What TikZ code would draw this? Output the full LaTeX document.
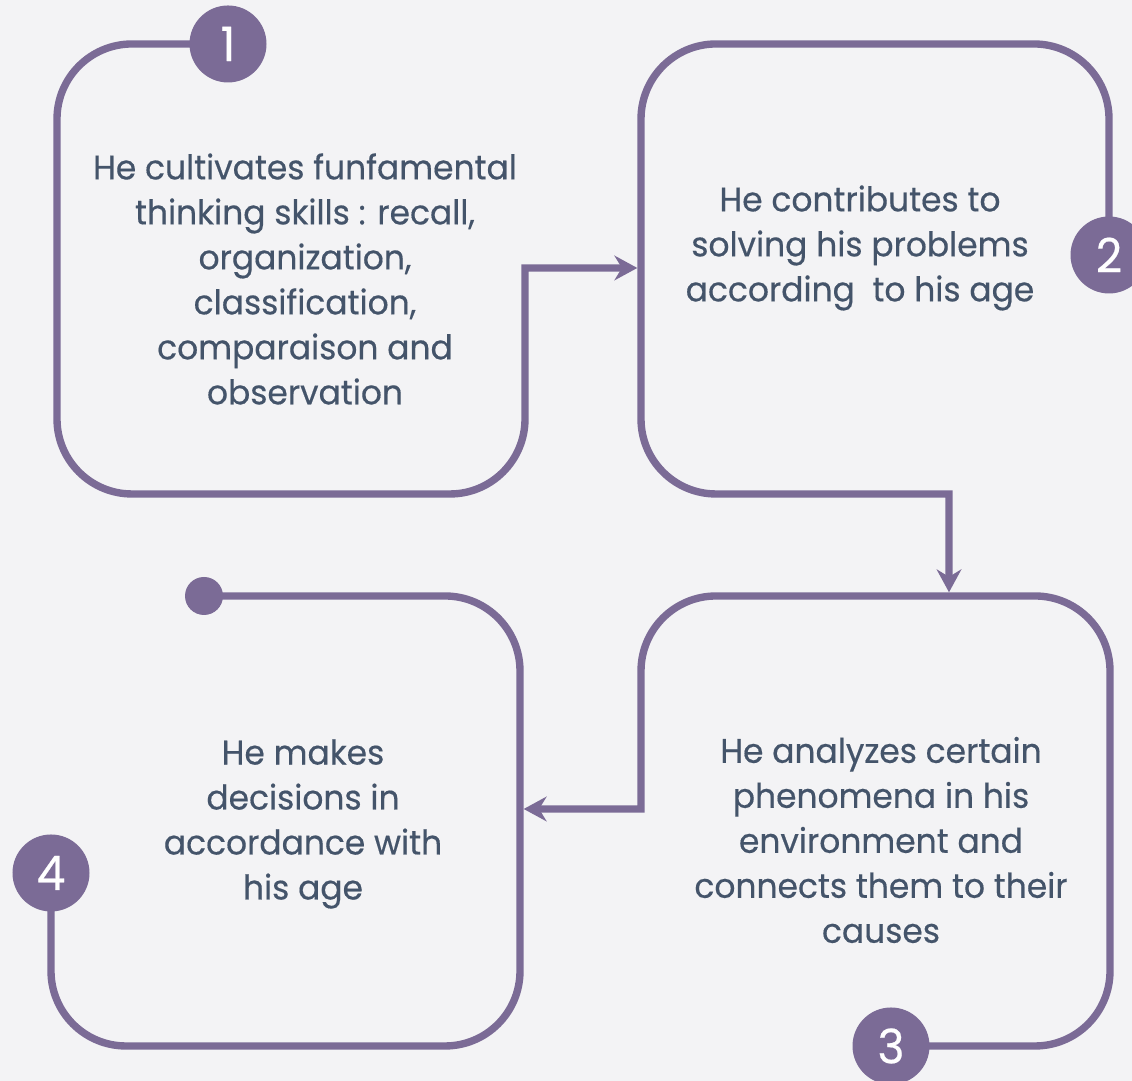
\documentclass[tikz,border=0pt]{standalone}
\usepackage{fontspec}
\setmainfont{Poppins}[FakeStretch=0.965, FakeBold=0.4]
\usetikzlibrary{arrows.meta}
\definecolor{flowpurple}{HTML}{7B6B96}
\definecolor{flowtext}{HTML}{44546A}
\definecolor{flowback}{HTML}{F3F3F5}
\begin{document}
\begin{tikzpicture}[
    x=1cm, y=1cm,
    frame/.style={draw=flowpurple, line width=2.1pt, rounded corners=0.75cm},
    badge/.style={circle, fill=flowpurple, text=white, minimum size=0.77cm, inner sep=0pt, font=\fontsize{13.5}{14}\selectfont},
    dotend/.style={circle, fill=flowpurple, minimum size=0.38cm, inner sep=0pt},
    txt/.style={align=center, text=flowtext, font=\fontsize{9.7}{12.8}\selectfont},
    line/.style={-{Stealth[length=6.5pt,width=7pt]}, shorten >=1.05pt}
]
\useasboundingbox (0,0) rectangle (11.32,10.81);
\fill[flowback] (0,0) rectangle (11.32,10.81);
\clip (0,0) rectangle (11.32,10.81);

% arrow ends on the next frame
\coordinate (in2) at (6.41,8.13);
\coordinate (in3) at (9.49,4.85);
\coordinate (in4) at (5.20,2.72);

\node[txt] (t1) at (3.05,8.02) {He cultivates funfamental\\thinking skills : recall,\\organization,\\classification,\\comparaison and\\observation};
\node[txt] (t2) at (8.60,8.33) {He contributes to\\solving his problems\\according\ \ to his age};
\node[txt] (t3) at (8.81,2.41) {He analyzes certain\\phenomena in his\\environment and\\connects them to their\\causes};
\node[txt] (t4) at (3.03,2.57) {He makes\\decisions in\\accordance with\\his age};

% frames
\draw[frame, line] (2.28,10.37) -- (0.57,10.37) -- (0.57,5.87) -- (5.25,5.87) [sharp corners] -- (5.25,8.13) -- (in2);
\draw[frame, line] (11.09,8.26) -- (11.09,10.37) -- (6.41,10.37) -- (6.41,5.87) [sharp corners] -- (9.49,5.87) -- (in3);
\draw[frame, line] (8.91,0.35) -- (11.10,0.35) -- (11.10,4.85) -- (6.41,4.85) [sharp corners] -- (6.41,2.72) -- (in4);
\draw[frame] (2.04,4.85) -- (5.20,4.85) -- (5.20,0.35) -- (0.51,0.35) -- (0.51,2.08);

\node[badge] (b1) at (2.28,10.37) {1};
\node[badge] (b2) at (11.09,8.26) {2};
\node[badge] (b3) at (8.91,0.35) {3};
\node[badge] (b4) at (0.51,2.08) {4};
\node[dotend] (dot) at (2.04,4.85) {};

\end{tikzpicture}
\end{document}
